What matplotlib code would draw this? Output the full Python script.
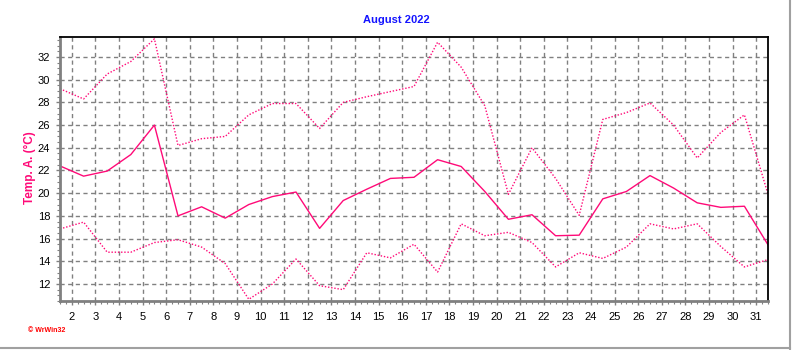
import matplotlib
matplotlib.use("Agg")
import matplotlib.pyplot as plt
from matplotlib.ticker import MultipleLocator, FixedLocator
from matplotlib.lines import Line2D
import numpy as np

plt.rcParams['font.family'] = ['Liberation Sans', 'DejaVu Sans']

days = list(range(1, 32))
t_max = [29.2, 28.3, 30.5, 31.6, 33.6, 24.2, 24.8, 25.0, 26.9, 27.9, 27.9, 25.7,
         28.0, 28.5, 28.95, 29.4, 33.3, 31.1, 27.7, 19.9, 24.0, 21.3, 18.05, 26.5,
         27.1, 27.95, 26.0, 23.1, 25.35, 26.9, 19.9]
t_avg = [22.4, 21.5, 21.95, 23.4, 26.0, 18.0, 18.8, 17.8, 19.0, 19.7, 20.1, 16.9,
         19.35, 20.35, 21.3, 21.4, 22.95, 22.35, 20.15, 17.7, 18.1, 16.25, 16.3, 19.5,
         20.15, 21.55, 20.45, 19.15, 18.75, 18.85, 15.45]
t_min = [16.85, 17.45, 14.8, 14.8, 15.65, 15.9, 15.25, 13.8, 10.65, 12.0, 14.2, 11.85,
         11.5, 14.75, 14.3, 15.5, 13.05, 17.3, 16.25, 16.55, 15.65, 13.5, 14.75, 14.25,
         15.25, 17.3, 16.85, 17.3, 15.3, 13.5, 14.15]
x_ticks = list(range(2, 32))
y_ticks = list(range(12, 33, 2))
title = "August 2022"
ylabel = "Temp. A. (°C)"

pink = '#FF0A78'
fig = plt.figure(figsize=(7.92, 3.5), dpi=100)
ax = fig.add_axes([60/792, 49/350, 708/792, 264/350])

xs = np.array(days) + 0.5
ax.plot(xs, t_max, color=pink, lw=1.0, linestyle=(0, (1, 1.3)))
ax.plot(xs, t_min, color=pink, lw=1.0, linestyle=(0, (1, 1.3)))
ax.plot(xs, t_avg, color=pink, lw=1.0, linestyle='-')

ax.set_xlim(1.5, 31.5)
ax.set_ylim(10.5, 33.76)
ax.xaxis.set_major_locator(FixedLocator(x_ticks))
ax.xaxis.set_minor_locator(MultipleLocator(0.25))
ax.yaxis.set_major_locator(FixedLocator(y_ticks))
ax.yaxis.set_minor_locator(MultipleLocator(0.5))
ax.set_xticklabels([str(t) for t in x_ticks])
ax.grid(True, which='major', color='#808080', linestyle=(0, (3, 2.5)), linewidth=1.0)
ax.tick_params(axis='both', which='major', direction='out', length=3, width=1,
               color='#808080', labelsize=8, pad=4)
ax.tick_params(axis='both', which='minor', direction='out', length=2.5, width=0.8,
               color='#808080')
ax.tick_params(axis='x', which='major', pad=5)

for s in ['left', 'bottom']:
    ax.spines[s].set_color('#808080')
    ax.spines[s].set_linewidth(2)
for s in ['top', 'right']:
    ax.spines[s].set_color('black')
    ax.spines[s].set_linewidth(1.3)

fig.text(0.5, 1 - 20/350, title, color='#1414FF', fontsize=8, fontweight='bold',
         ha='center', va='center')
fig.text(30/792, 1 - 168/350, ylabel, color=pink, fontsize=8.5, fontweight='bold',
         rotation=90, ha='center', va='center')
fig.text(28/792, 1 - 331/350, "\u00a9 WrWin32", color='#FF0000', fontsize=5,
         fontweight='bold', ha='left', va='center')

# window frame
fig.add_artist(Line2D([790/792, 790/792], [0, 1], color='#A0A0A0', lw=1.5,
                      transform=fig.transFigure))
fig.add_artist(Line2D([0, 790/792], [2/350, 2/350], color='#A0A0A0', lw=1.5,
                      transform=fig.transFigure))

fig.savefig('out.png', dpi=100)
